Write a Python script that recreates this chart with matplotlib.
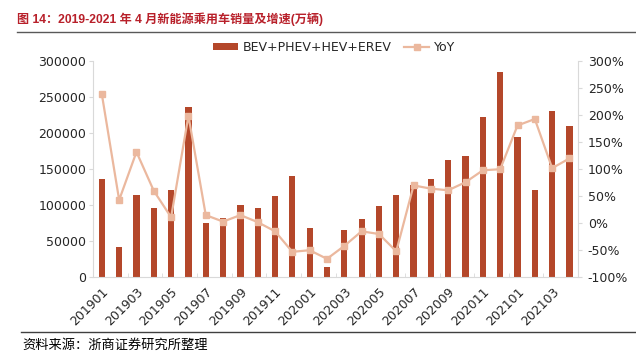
import matplotlib
matplotlib.use("Agg")
import matplotlib.pyplot as plt
from matplotlib.ticker import FuncFormatter, FixedLocator
from matplotlib.lines import Line2D

months = ["201901", "201902", "201903", "201904", "201905", "201906", "201907",
          "201908", "201909", "201910", "201911", "201912", "202001", "202002",
          "202003", "202004", "202005", "202006", "202007", "202008", "202009",
          "202010", "202011", "202012", "202101", "202102", "202103", "202104"]
sales = [136000, 41000, 113500, 95000, 120400, 235300, 75000,
         81100, 100000, 95000, 111700, 140300, 68000, 13500,
         64800, 80100, 97700, 113500, 127000, 135300, 161700,
         167200, 221800, 283900, 194400, 120400, 229700, 209300]
yoy = [2.38, 0.42, 1.31, 0.59, 0.10, 1.98, 0.14,
       0.02, 0.14, 0.01, -0.16, -0.54, -0.51, -0.67,
       -0.43, -0.16, -0.21, -0.53, 0.69, 0.63, 0.60,
       0.75, 0.97, 0.99, 1.80, 1.92, 1.01, 1.19]

BAR = "#B4472A"
LINE = "#EBB89E"
AXC = "#D9D9D9"
TXT = "#262626"

fig = plt.figure(figsize=(6.36, 3.52), dpi=100)
ax = fig.add_axes([0.1465, 0.214, 0.7625, 0.6136])
x = list(range(len(months)))
bars = ax.bar(x, sales, width=0.36, color=BAR, zorder=2)
ax.set_xlim(-0.5, len(months) - 0.5)
ax.set_ylim(0, 300000)
ax.set_yticks(range(0, 300001, 50000))
ax.set_xticks(x[::2])
ax.set_xticklabels(months[::2], rotation=45, ha="right", rotation_mode="anchor",
                   fontsize=9, color=TXT)
ax.xaxis.set_minor_locator(FixedLocator([i + 1.5 for i in range(0, len(months), 2)]))
ax.tick_params(axis="x", which="major", length=0, pad=6)
ax.tick_params(axis="x", which="minor", direction="in", length=3, color=AXC)
ax.tick_params(axis="y", labelsize=9, labelcolor=TXT, length=3, color=AXC, pad=2)
for s in ["top", "right"]:
    ax.spines[s].set_visible(False)
for s in ["left", "bottom"]:
    ax.spines[s].set_color(AXC)

ax2 = ax.twinx()
ln, = ax2.plot(x, yoy, color=LINE, lw=1.6, marker="s", markersize=5,
               markerfacecolor=LINE, markeredgecolor=LINE)
ax2.set_ylim(-1, 3)
ax2.set_yticks([-1, -0.5, 0, 0.5, 1, 1.5, 2, 2.5, 3])
ax2.yaxis.set_major_formatter(FuncFormatter(lambda v, p: f"{v * 100:.0f}%"))
ax2.tick_params(axis="y", labelsize=9, labelcolor=TXT, length=3, color=AXC, pad=4)
for s in ["top", "left", "bottom"]:
    ax2.spines[s].set_visible(False)
ax2.spines["right"].set_color(AXC)

fig.legend([bars, ln], ["BEV+PHEV+HEV+EREV", "YoY"], loc="center left",
           bbox_to_anchor=(0.335, 0.866), ncol=2, frameon=False, fontsize=9,
           handlelength=2.0, handleheight=0.5, handletextpad=0.4,
           columnspacing=1.0, borderpad=0, borderaxespad=0)
for t in fig.legends[0].get_texts():
    t.set_color(TXT)

fig.text(17 / 636, 1 - 19 / 352, "图 14：2019-2021 年 4 月新能源乘用车销量及增速(万辆)",
         fontsize=8.7, fontweight="bold", color="#B8202A",
         family=["Liberation Sans", "Noto Sans CJK SC"], va="center", ha="left")
fig.add_artist(Line2D([17 / 636, 1], [1 - 32.3 / 352] * 2, color="#595959", lw=1.0))
fig.add_artist(Line2D([21 / 636, 1], [1 - 332 / 352] * 2, color="#404040", lw=1.0))
fig.text(22 / 636, 1 - 345.5 / 352, "资料来源：浙商证券研究所整理", fontsize=9.5,
         color="#000000", family=["Noto Sans CJK SC", "DejaVu Sans"],
         va="center", ha="left")

fig.savefig("out.png", dpi=100)
